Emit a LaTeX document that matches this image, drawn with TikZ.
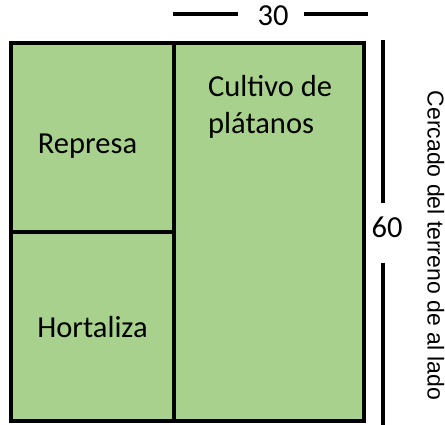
\documentclass[tikz,border=0pt]{standalone}
\usepackage{fontspec}
\setmainfont{Carlito}
\newfontfamily\arialf{Liberation Sans}
\definecolor{fieldgreen}{HTML}{A9D18E}
\begin{document}
\begin{tikzpicture}[x=1pt,y=-1pt,
  plot/.style={draw=black, line width=4pt, fill=fieldgreen, inner sep=0pt},
  lbl/.style={font=\fontsize{30.5}{37}\selectfont, inner sep=0pt},
  dimline/.style={line width=4pt}]
\useasboundingbox (0,0) rectangle (445,425);
\fill[white] (0,0) rectangle (445,425);
% plots
\node[plot, minimum width=163pt, minimum height=189pt] (represa) at (92.5,137.5) {};
\node[plot, minimum width=163pt, minimum height=189pt] (hortaliza) at (92.5,326.5) {};
\node[plot, minimum width=190pt, minimum height=378pt] (cultivo) at (269,232) {};
% labels
\node[lbl, anchor=base] (trepresa) at (87.5,154) {Represa};
\node[lbl, anchor=base] (thortaliza) at (92.5,337) {Hortaliza};
\node[lbl, anchor=base west, align=left] (tcultivo) at (208,134) {Cultivo de\\plátanos};
% dimensions
\node[lbl, anchor=base] (l30) at (273,26) {30};
\node[lbl, anchor=base] (l60) at (387,237) {60};
\coordinate (t1) at (173,14);
\coordinate (t2) at (238,14);
\coordinate (t3) at (304,14);
\coordinate (t4) at (368,14);
\draw[dimline] (t1) -- (t2);
\draw[dimline] (t3) -- (t4);
\coordinate (r1) at (383,40);
\coordinate (r2) at (383,203);
\coordinate (r3) at (383,263);
\coordinate (r4) at (383,425);
\draw[dimline] (r1) -- (r2);
\draw[dimline] (r3) -- (r4);
% fence text
\node[font=\arialf\fontsize{23}{27}\selectfont, rotate=-90, anchor=base, inner sep=0pt] (cercado) at (427.5,245.5) {Cercado del terreno de al lado};
\end{tikzpicture}
\end{document}
